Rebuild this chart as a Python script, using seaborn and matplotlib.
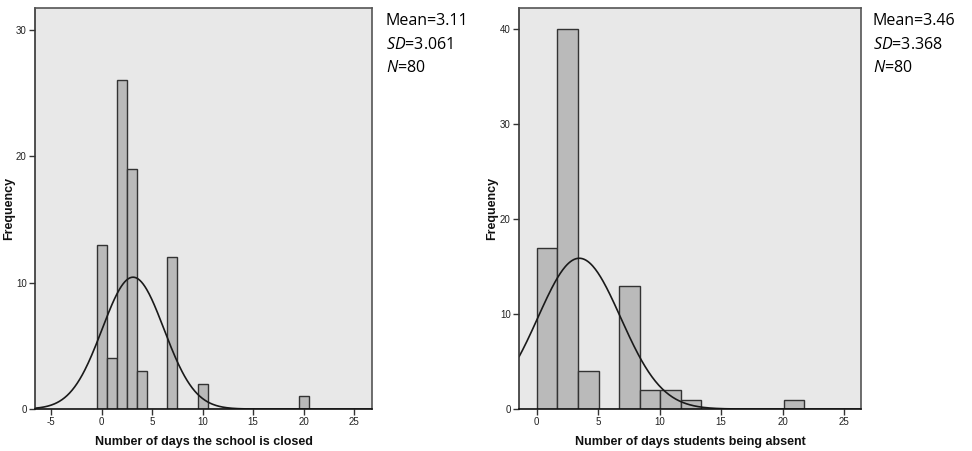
import numpy as np
import pandas as pd
import seaborn as sns
import matplotlib.pyplot as plt

# left panel: days the school is closed (bins of width 1 centred on integers)
closed_days = [0, 1, 2, 3, 4, 7, 10, 20]
closed_freq = [13, 4, 26, 19, 3, 12, 2, 1]
closed_mean, closed_sd, closed_n = 3.11, 3.061, 80

# right panel: days students being absent (13 bins from 0, width 1.675)
absent_bin_width = 1.675
absent_freq = [17, 40, 4, 0, 13, 2, 2, 1, 0, 0, 0, 0, 1]
absent_mean, absent_sd, absent_n = 3.46, 3.368, 80

x_ticks = [-5, 0, 5, 10, 15, 20, 25]

sns.set_style("white")
plt.rcParams['font.family'] = ['Liberation Sans', 'DejaVu Sans']
plt.rcParams['axes.unicode_minus'] = False
plt.rcParams['mathtext.fontset'] = 'custom'
plt.rcParams['mathtext.it'] = 'Open Sans:italic'
plt.rcParams['mathtext.rm'] = 'Open Sans'

fig = plt.figure(figsize=(9.72, 4.51), dpi=100)
ax1 = fig.add_axes([0.036, 0.093, 0.347, 0.889])
ax2 = fig.add_axes([0.534, 0.093, 0.352, 0.889])

bar_fill = "#bababa"
bar_edge = "#333333"


def normal_curve(ax, mean, sd, n, width, xmin, xmax):
    xs = np.linspace(xmin, xmax, 400)
    ys = n * width * np.exp(-0.5 * ((xs - mean) / sd) ** 2) / (sd * np.sqrt(2 * np.pi))
    sns.lineplot(x=xs, y=ys, ax=ax, color="#1a1a1a", lw=1.2)


def style_axes(ax, xlim, ylim, yticks, xlabel, ylab_x):
    ax.set_facecolor("#e8e8e8")
    ax.set_xlim(xlim)
    ax.set_ylim(ylim)
    ax.set_xticks([t for t in x_ticks if xlim[0] < t < xlim[1]])
    ax.set_yticks(yticks)
    ax.tick_params(axis="both", direction="out", length=4, width=1, color="#333333",
                   labelsize=7, labelcolor="#222222", pad=2,
                   bottom=True, left=True)
    for s in ax.spines.values():
        s.set_color("#555555")
        s.set_linewidth(1.2)
    ax.spines["left"].set_color("#333333")
    ax.spines["bottom"].set_color("#111111")
    ax.set_xlabel(xlabel, fontsize=9, fontweight="bold", color="#111111")
    ax.xaxis.set_label_coords(0.5, -0.066)
    ax.set_ylabel("Frequency", fontsize=9, fontweight="bold", color="#111111")
    ax.yaxis.set_label_coords(ylab_x, 0.5)


# left histogram
closed_df = pd.DataFrame({"days": closed_days, "freq": closed_freq})
closed_edges = list(np.arange(-0.5, 21.0, 1.0))
sns.histplot(data=closed_df, x="days", weights="freq", bins=closed_edges, ax=ax1,
             color=bar_fill, edgecolor=bar_edge, linewidth=1, alpha=1)
normal_curve(ax1, closed_mean, closed_sd, closed_n, 1.0, -6.6, 26.8)
style_axes(ax1, (-6.6, 26.8), (0, 31.7), [0, 10, 20, 30],
           "Number of days the school is closed", -0.06)

# right histogram
absent_edges = np.arange(len(absent_freq) + 1) * absent_bin_width
absent_df = pd.DataFrame({"days": absent_edges[:-1] + absent_bin_width / 2, "freq": absent_freq})
sns.histplot(data=absent_df, x="days", weights="freq", bins=list(absent_edges), ax=ax2,
             color=bar_fill, edgecolor=bar_edge, linewidth=1, alpha=1)
normal_curve(ax2, absent_mean, absent_sd, absent_n, absent_bin_width, -1.44, 26.4)
style_axes(ax2, (-1.44, 26.4), (0, 42.2), [0, 10, 20, 30, 40],
           "Number of days students being absent", -0.062)


# statistics text beside each panel
def stats(x, mean, sd, n):
    fam = ["Open Sans", "DejaVu Sans"]
    kw = dict(fontsize=11.5, family=fam, va="center", color="black")
    fig.text(x, 0.953, f"Mean={mean:.2f}", **kw)
    fig.text(x, 0.901, "$\\it{SD}$=" + f"{sd:.3f}", **kw)
    fig.text(x, 0.850, "$\\it{N}$=" + f"{n}", **kw)


stats(0.397, closed_mean, closed_sd, closed_n)
stats(0.898, absent_mean, absent_sd, absent_n)

fig.savefig("out.png", dpi=100, facecolor="white")
